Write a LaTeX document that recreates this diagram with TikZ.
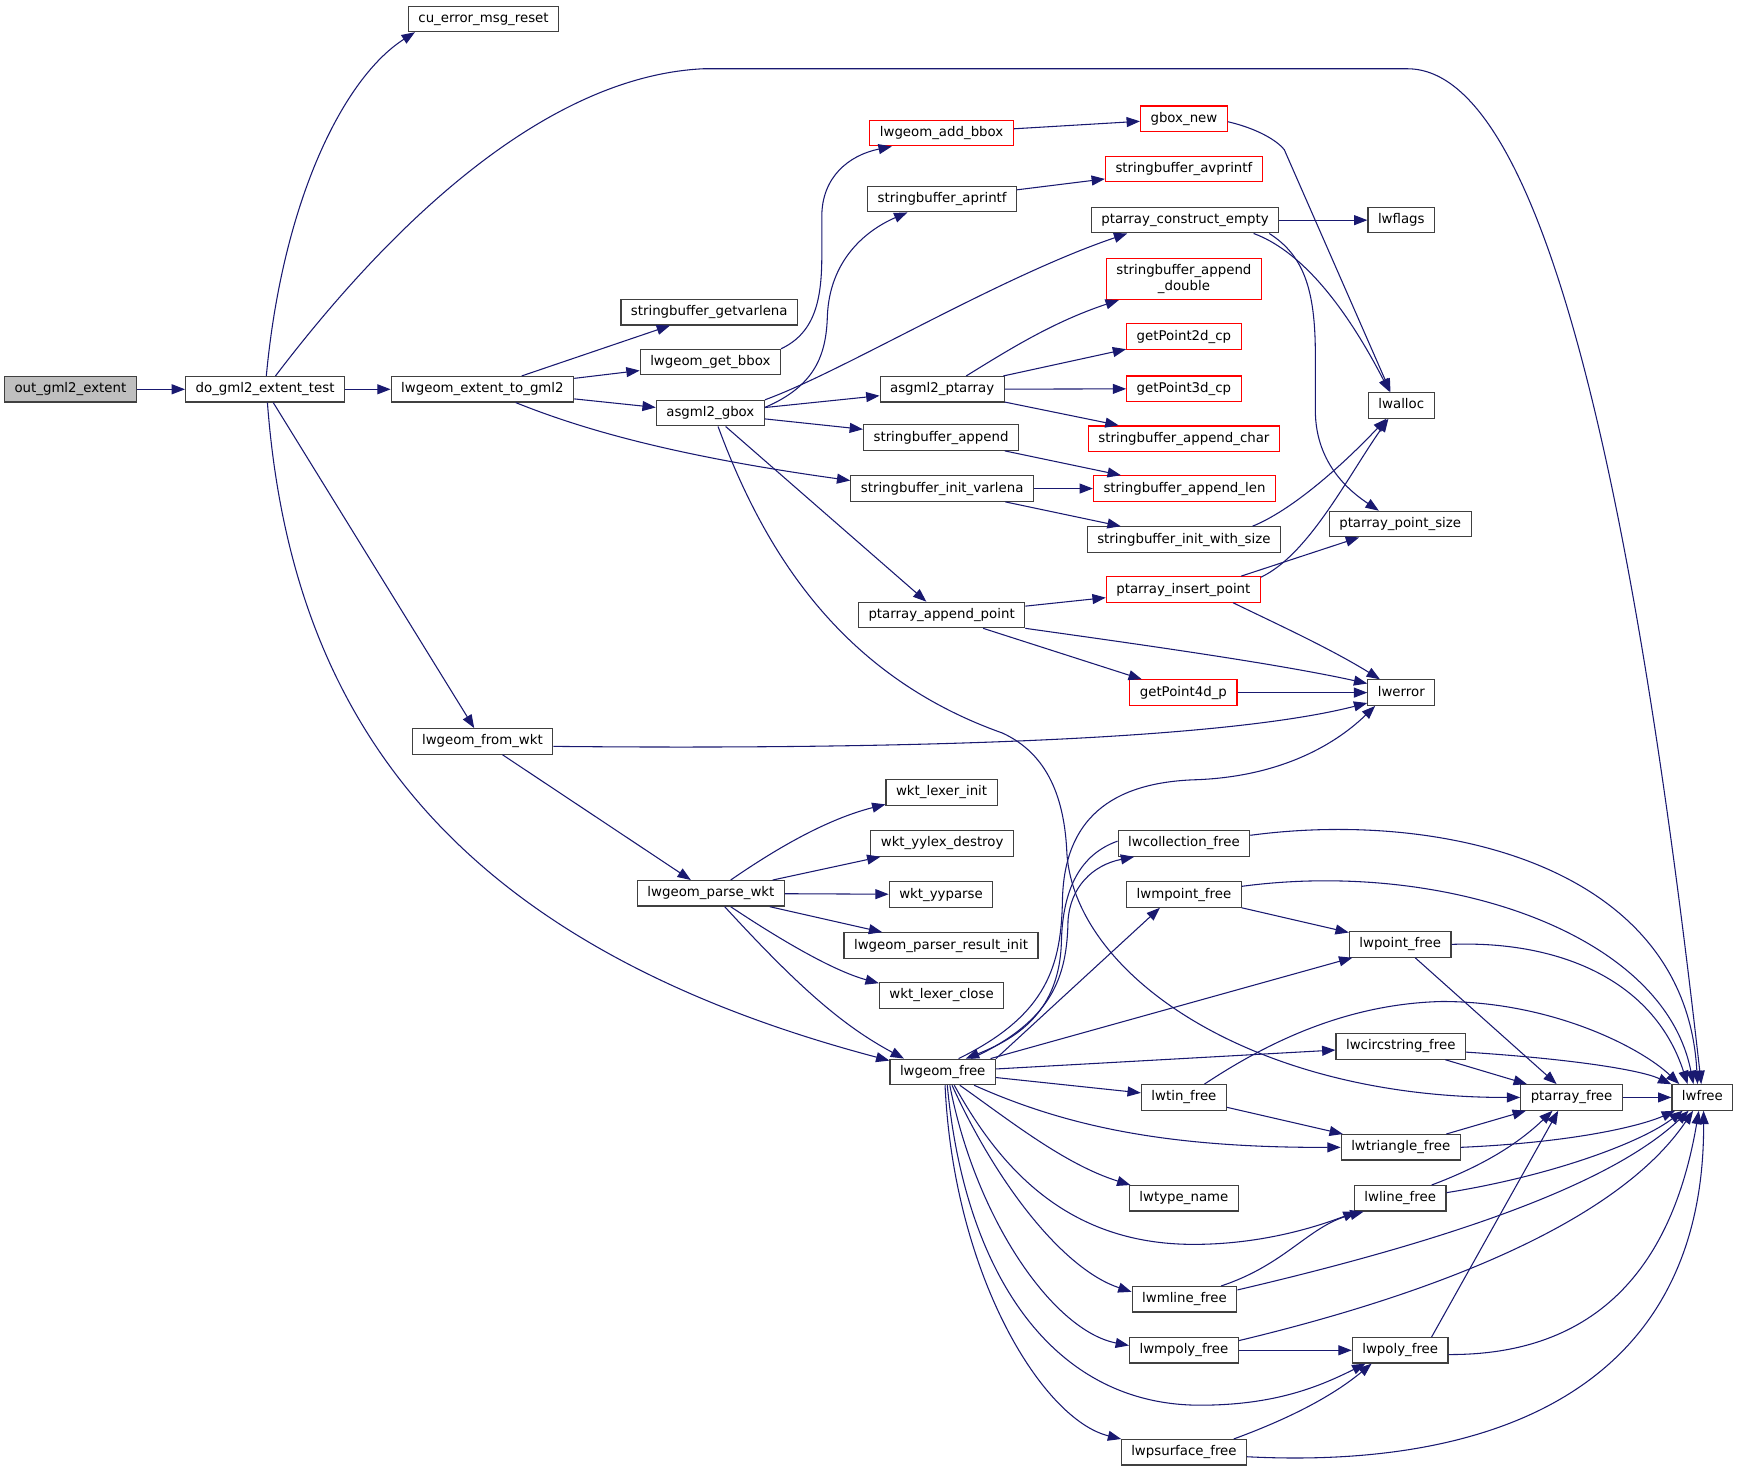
\documentclass[tikz,border=0pt]{standalone}
\usepackage{fontspec}
\setmainfont{DejaVu Sans}
\usetikzlibrary{arrows.meta}
\definecolor{edgeblue}{HTML}{191970}
\definecolor{nodeborder}{HTML}{404040}
\definecolor{rootgray}{HTML}{BFBFBF}
\tikzset{
  fn/.style={draw=nodeborder, fill=white, line width=0.9pt, inner xsep=7.5pt, inner ysep=0pt,
    minimum height=19.1pt, font=\fontsize{10}{12.5}\selectfont, text height=7.5pt, text depth=2.2pt},
  fnred/.style={fn, draw=red},
  fnroot/.style={fn, fill=rootgray},
  call/.style={draw=edgeblue, line width=0.8pt, -{Triangle[length=10pt,width=7.5pt]}}
}
\begin{document}
\begin{tikzpicture}[x=0.8318pt,y=-0.8318pt]
\useasboundingbox (0,0) rectangle (1568,1327.3);
% nodes
\node[fnroot] (out) at (63.5,351) {out\_gml2\_extent};
\node[fn] (do) at (239,351) {do\_gml2\_extent\_test};
\node[fn] (ext) at (435,351) {lwgeom\_extent\_to\_gml2};
\node[fn] (cu) at (436,17) {cu\_error\_msg\_reset};
\node[fn] (getvar) at (639.5,281.5) {stringbuffer\_getvarlena};
\node[fn] (getbbox) at (640.5,326.5) {lwgeom\_get\_bbox};
\node[fn] (gbox) at (640.5,372.5) {asgml2\_gbox};
\node[fnred] (addbbox) at (849,120) {lwgeom\_add\_bbox};
\node[fn] (aprintf) at (849.5,179.5) {stringbuffer\_aprintf};
\node[fn] (ptarr) at (849.5,351) {asgml2\_ptarray};
\node[fn] (append) at (848.5,394.5) {stringbuffer\_append};
\node[fn] (initvar) at (849.5,440.5) {stringbuffer\_init\_varlena};
\node[fn] (appendpt) at (849,554.5) {ptarray\_append\_point};
\node[fnred] (gboxnew) at (1067.5,107) {gbox\_new};
\node[fnred] (avprintf) at (1067.5,152.5) {stringbuffer\_avprintf};
\node[fn] (ctorempty) at (1068.5,198.5) {ptarray\_construct\_empty};
\node[fnred, minimum height=30.8pt, text height=, text depth=, align=center] (appdouble) at (1067.5,251.5) {stringbuffer\_append\\\_double};
\node[fnred] (gp2d) at (1067.5,303.5) {getPoint2d\_cp};
\node[fnred] (gp3d) at (1067.5,350.5) {getPoint3d\_cp};
\node[fnred] (appchar) at (1067.5,395.5) {stringbuffer\_append\_char};
\node[fnred] (applen) at (1068,440.5) {stringbuffer\_append\_len};
\node[fn] (initsize) at (1067.5,486.5) {stringbuffer\_init\_with\_size};
\node[fnred] (insertpt) at (1067,531.5) {ptarray\_insert\_point};
\node[fnred] (gp4d) at (1067,624.5) {getPoint4d\_p};
\node[fn] (lwflags) at (1263.5,198.5) {lwflags};
\node[fn] (lwalloc) at (1263.5,365.5) {lwalloc};
\node[fn] (ptsize) at (1262.5,472.5) {ptarray\_point\_size};
\node[fn] (lwerror) at (1263.5,624.5) {lwerror};
\node[fn] (fromwkt) at (435,668.5) {lwgeom\_from\_wkt};
\node[fn] (parsewkt) at (641,805.5) {lwgeom\_parse\_wkt};
\node[fn] (lexinit) at (849,714.5) {wkt\_lexer\_init};
\node[fn] (yylex) at (849.5,760.5) {wkt\_yylex\_destroy};
\node[fn] (yyparse) at (848.5,806.5) {wkt\_yyparse};
\node[fn] (resinit) at (848.5,852.5) {lwgeom\_parser\_result\_init};
\node[fn] (lexclose) at (849,897.5) {wkt\_lexer\_close};
\node[fn] (geomfree) at (850,966.5) {lwgeom\_free};
\node[fn] (collfree) at (1067.5,760.5) {lwcollection\_free};
\node[fn] (mpointfree) at (1067.5,806.5) {lwmpoint\_free};
\node[fn] (pointfree) at (1262.5,851.5) {lwpoint\_free};
\node[fn] (circfree) at (1263,943.5) {lwcircstring\_free};
\node[fn] (tinfree) at (1067.5,989.5) {lwtin\_free};
\node[fn] (trifree) at (1263,1034.5) {lwtriangle\_free};
\node[fn] (typename) at (1067.5,1080.5) {lwtype\_name};
\node[fn] (linefree) at (1262.5,1080.5) {lwline\_free};
\node[fn] (mlinefree) at (1068,1171.5) {lwmline\_free};
\node[fn] (mpolyfree) at (1067.5,1217.5) {lwmpoly\_free};
\node[fn] (polyfree) at (1262.5,1217.5) {lwpoly\_free};
\node[fn] (psurffree) at (1067.5,1309.5) {lwpsurface\_free};
\node[fn] (ptfree) at (1417,989.5) {ptarray\_free};
\node[fn] (lwfree) at (1535,989.5) {lwfree};
% edges
\draw[call] (out) -- (do);
\draw[call] (do) .. controls (255,180) and (310,70) .. (cu.191);
\draw[call] (do.52) .. controls (320,245) and (470,70) .. (634,62) -- (1269,62) .. controls (1400,62) and (1480,500) .. (lwfree.95);
\draw[call] (do) -- (ext);
\draw[call] (do) -- (fromwkt);
\draw[call] (do.-80) .. controls (262,640) and (400,850) .. (geomfree.168);
\draw[call] (ext) -- (getvar);
\draw[call] (ext) -- (getbbox);
\draw[call] (ext) -- (gbox);
\draw[call] (ext) .. controls (520,385) and (600,410) .. (initvar.175);
\draw[call] (getbbox.north east) .. controls (735,300) and (741,270) .. (741,230) -- (741,195) .. controls (741,160) and (765,140) .. (addbbox.195);
\draw[call] (addbbox) -- (gboxnew);
\draw[call] (gbox.6) .. controls (735,348) and (745,320) .. (746,285) .. controls (748,235) and (780,208) .. (aprintf.201);
\draw[call] (gbox.north east) .. controls (760,335) and (900,250) .. (ctorempty.193);
\draw[call] (gbox) -- (ptarr);
\draw[call] (gbox) -- (append);
\draw[call] (gbox) -- (appendpt);
\draw[call] (gbox.-60) .. controls (690,500) and (760,610) .. (904,661) .. controls (945,680) and (960,720) .. (962,770) .. controls (970,880) and (1130,990) .. (ptfree.west);
\draw[call] (ptarr.29) .. controls (910,315) and (950,290) .. (appdouble.198);
\draw[call] (ptarr) -- (gp2d);
\draw[call] (ptarr) -- (gp3d);
\draw[call] (ptarr) -- (appchar);
\draw[call] (append) -- (applen);
\draw[call] (initvar) -- (applen);
\draw[call] (initvar) -- (initsize);
\draw[call] (aprintf) -- (avprintf);
\draw[call] (ctorempty) -- (lwflags);
\draw[call] (ctorempty.-11) .. controls (1170,225) and (1210,270) .. (lwalloc.131);
\draw[call] (ctorempty.-9.5) .. controls (1175,230) and (1186,260) .. (1186,320) -- (1186,370) .. controls (1186,420) and (1220,445) .. (ptsize.148);
\draw[call] (gboxnew.-4) .. controls (1130,115) and (1150,125) .. (1158,135) -- (lwalloc.129);
\draw[call] (initsize.11) .. controls (1165,460) and (1210,420) .. (lwalloc.222);
\draw[call] (insertpt.9.7) .. controls (1180,500) and (1215,430) .. (lwalloc.226);
\draw[call] (insertpt.13) -- (ptsize.198);
\draw[call] (insertpt.-15) .. controls (1150,562) and (1200,585) .. (lwerror.148);
\draw[call] (appendpt) -- (insertpt);
\draw[call] (appendpt.south east) .. controls (1020,580) and (1150,598) .. (lwerror.165);
\draw[call] (appendpt) -- (gp4d);
\draw[call] (gp4d) -- (lwerror);
\draw[call] (fromwkt.-4) .. controls (800,676) and (1100,668) .. (lwerror.197);
\draw[call] (fromwkt) -- (parsewkt);
\draw[call] (parsewkt.34) .. controls (690,772) and (740,740) .. (lexinit.192);
\draw[call] (parsewkt) -- (yylex);
\draw[call] (parsewkt) -- (yyparse);
\draw[call] (parsewkt) -- (resinit);
\draw[call] (parsewkt.-34) .. controls (700,845) and (750,875) .. (lexclose.169);
\draw[call] (parsewkt.-44) .. controls (720,890) and (760,925) .. (geomfree.161);
\draw[call] (geomfree.40) .. controls (945,915) and (957,870) .. (958,810) .. controls (960,740) and (1000,705) .. (1080,703) .. controls (1150,700) and (1200,675) .. (lwerror.207);
\draw[call] (collfree.178) .. controls (975,770) and (958,800) .. (957,850) .. controls (955,910) and (920,935) .. (geomfree.30);
\draw[call] (geomfree.25) .. controls (950,920) and (962,880) .. (963,830) .. controls (965,800) and (985,780) .. (collfree.195);
\draw[call] (geomfree.north east) -- (mpointfree.209);
\draw[call] (geomfree) -- (pointfree);
\draw[call] (geomfree) -- (circfree);
\draw[call] (geomfree) -- (tinfree);
\draw[call] (geomfree.-23) .. controls (960,1015) and (1050,1035) .. (trifree.west);
\draw[call] (geomfree.-38) .. controls (910,1010) and (960,1050) .. (typename.166);
\draw[call] (geomfree.-49) .. controls (900,1050) and (960,1122) .. (1076,1122) .. controls (1140,1122) and (1190,1105) .. (linefree.197);
\draw[call] (geomfree.-55) .. controls (900,1070) and (960,1145) .. (mlinefree.172);
\draw[call] (geomfree.-62) .. controls (880,1100) and (950,1200) .. (mpolyfree.175);
\draw[call] (geomfree.-71) .. controls (870,1150) and (950,1267) .. (1082,1267) .. controls (1150,1267) and (1190,1250) .. (polyfree.201);
\draw[call] (geomfree.-80) .. controls (860,1150) and (940,1280) .. (psurffree.168);
\draw[call] (collfree.7) .. controls (1300,730) and (1520,780) .. (lwfree.110);
\draw[call] (mpointfree.8) .. controls (1300,775) and (1500,840) .. (lwfree.124);
\draw[call] (mpointfree) -- (pointfree);
\draw[call] (pointfree) -- (ptfree);
\draw[call] (pointfree.east) .. controls (1400,848) and (1490,880) .. (lwfree.138);
\draw[call] (circfree) -- (ptfree);
\draw[call] (circfree.-5) .. controls (1420,955) and (1480,965) .. (lwfree.157);
\draw[call] (tinfree.33) .. controls (1150,935) and (1220,905) .. (1300,903) .. controls (1400,903) and (1480,945) .. (lwfree.150);
\draw[call] (tinfree) -- (trifree);
\draw[call] (trifree) -- (ptfree);
\draw[call] (trifree.east) .. controls (1420,1030) and (1480,1015) .. (lwfree.206);
\draw[call] (linefree.23) .. controls (1340,1050) and (1370,1030) .. (ptfree.215);
\draw[call] (linefree.7) .. controls (1400,1060) and (1480,1030) .. (lwfree.214);
\draw[call] (mlinefree.20) .. controls (1160,1140) and (1180,1105) .. (linefree.200);
\draw[call] (mlinefree.10) .. controls (1300,1120) and (1450,1070) .. (lwfree.224);
\draw[call] (mpolyfree) -- (polyfree);
\draw[call] (mpolyfree.10) .. controls (1300,1165) and (1460,1100) .. (lwfree.235);
\draw[call] (polyfree.23) -- (ptfree.225);
\draw[call] (polyfree.-5) .. controls (1450,1222) and (1510,1130) .. (lwfree.255);
\draw[call] (psurffree.15) .. controls (1160,1280) and (1200,1260) .. (polyfree.205);
\draw[call] (psurffree.-4) .. controls (1350,1325) and (1537,1250) .. (lwfree.275);
\draw[call] (ptfree) -- (lwfree);
\end{tikzpicture}
\end{document}
